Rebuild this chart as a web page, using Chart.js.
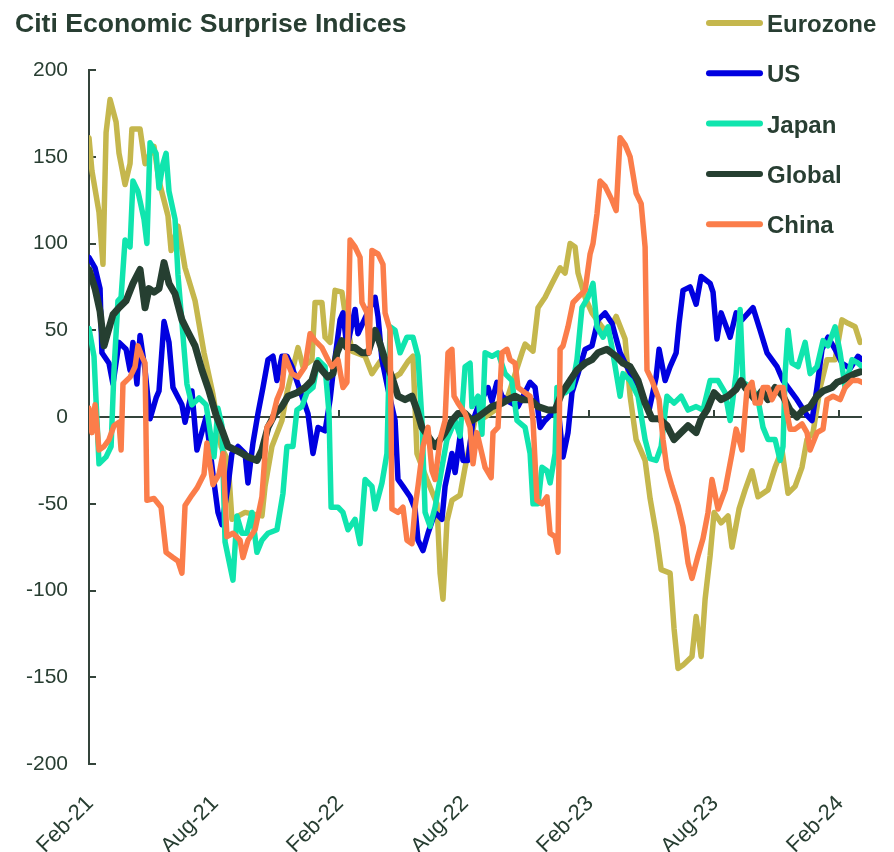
<!DOCTYPE html>
<html>
<head>
<meta charset="utf-8">
<script src="https://cdn.jsdelivr.net/npm/chart.js@4.4.1/dist/chart.umd.min.js"></script>
<style>
  html, body { margin: 0; padding: 0; background: #fff; }
  canvas { display: block; }
</style>
</head>
<body>
<canvas id="chart" width="894" height="852"></canvas>
<script>
// x = months since Feb-21, y = index level
const tickMonths = [0, 6, 12, 18, 24, 30, 36];
const tickLabels = ["Feb-21", "Aug-21", "Feb-22", "Aug-22", "Feb-23", "Aug-23", "Feb-24"];
const yTicks = [-200, -150, -100, -50, 0, 50, 100, 150, 200];

const seriesNames = ["Eurozone", "US", "Japan", "Global", "China"];
const seriesColors = ["#C5B74D", "#0000E0", "#10E5AE", "#263F31", "#FB7D4A"];

const eurozone = [[0,161],[0.14,142],[0.48,118],[0.67,88],[0.82,164],[1.01,183],[1.30,170],[1.44,152],[1.73,134],[1.97,146],[2.06,166],[2.45,166],[2.69,146],[3.12,156],[3.36,136],[3.79,116],[3.94,96],[4.27,110],[4.61,86],[5.09,67],[5.52,37],[5.95,13],[6.34,-17],[6.67,-25],[6.86,-59],[7.49,-55],[8.30,-57],[8.45,-40],[8.78,-17],[9.26,-2],[9.50,14],[10.03,40],[10.27,29],[10.70,33],[10.85,66],[11.18,66],[11.33,46],[11.57,43],[11.81,73],[12.14,72],[12.29,60],[12.62,38],[13.25,35],[13.58,25],[13.97,32],[14.54,22],[14.93,25],[15.31,32],[15.55,35],[15.74,-21],[16.22,-36],[16.70,-50],[16.85,-90],[16.99,-105],[17.18,-60],[17.42,-48],[17.81,-45],[18.05,-29],[18.38,-10],[18.67,6],[19.01,0],[19.49,4],[20.11,12],[20.78,37],[20.93,42],[21.31,38],[21.55,63],[21.89,69],[22.22,77],[22.61,86],[22.85,83],[23.09,100],[23.33,98],[23.47,83],[23.81,69],[24.14,60],[24.62,52],[24.91,48],[25.30,58],[25.73,45],[25.97,12],[26.26,-13],[26.69,-25],[26.93,-47],[27.22,-67],[27.46,-88],[27.89,-90],[28.08,-122],[28.27,-145],[28.51,-143],[28.94,-138],[29.14,-115],[29.38,-138],[29.57,-105],[29.81,-80],[30.00,-55],[30.34,-61],[30.67,-57],[30.86,-75],[31.20,-53],[31.49,-42],[31.82,-31],[32.11,-46],[32.59,-42],[32.93,-29],[33.26,-19],[33.55,-44],[33.89,-40],[34.22,-29],[34.46,-13],[34.75,-9],[35.09,17],[35.42,33],[35.81,33],[36.14,56],[36.43,54],[36.77,52],[37.01,43]];

const us = [[0,92],[0.29,86],[0.53,74],[0.62,37],[0.96,31],[1.15,19],[1.44,43],[1.78,39],[1.97,27],[2.11,43],[2.30,19],[2.45,47],[2.69,27],[2.93,-1],[3.22,11],[3.36,15],[3.60,55],[3.84,43],[4.03,17],[4.46,7],[4.61,-3],[4.94,15],[5.18,-19],[5.62,0],[5.95,-33],[6.19,-55],[6.38,-62],[6.67,-40],[6.86,-21],[7.15,-17],[7.49,-21],[7.63,-38],[7.87,-15],[8.11,2],[8.35,17],[8.59,33],[8.83,35],[9.02,21],[9.26,35],[9.50,35],[9.74,29],[10.22,12],[10.51,2],[10.75,-21],[10.99,-6],[11.33,-8],[11.57,10],[11.71,25],[12.05,56],[12.19,60],[12.38,40],[12.77,62],[12.91,48],[13.25,57],[13.73,69],[13.87,58],[14.06,33],[14.35,16],[14.69,-2],[14.83,-36],[15.07,-40],[15.41,-46],[15.65,-53],[15.79,-71],[16.03,-77],[16.27,-67],[16.61,-55],[16.94,-59],[17.09,-40],[17.42,-21],[17.57,-32],[17.81,-11],[17.95,-25],[18.19,-25],[18.43,-2],[18.67,6],[19.15,17],[19.34,9],[19.58,20],[19.82,12],[20.11,9],[20.59,6],[21.17,20],[21.41,17],[21.65,-6],[21.89,-2],[22.22,2],[22.51,6],[22.75,-23],[22.99,-9],[23.18,14],[23.47,25],[23.81,39],[24.14,41],[24.43,56],[24.77,60],[25.10,54],[25.49,37],[25.82,29],[26.16,21],[26.50,12],[26.88,4],[27.22,23],[27.36,39],[27.65,21],[27.89,29],[28.18,37],[28.32,54],[28.51,73],[28.85,75],[29.14,65],[29.38,81],[29.81,77],[29.95,72],[30.14,45],[30.34,60],[30.77,46],[31.06,60],[31.34,56],[31.87,63],[32.21,50],[32.54,37],[33.02,29],[33.31,21],[33.98,10],[34.46,1],[34.70,-2],[34.94,17],[35.18,39],[35.47,46],[35.81,39],[36.14,31],[36.53,28],[36.91,35],[37.10,33]];

const japan = [[0,51],[0.24,35],[0.48,-27],[0.82,-23],[1.06,-17],[1.20,27],[1.39,67],[1.54,69],[1.73,102],[1.97,98],[2.11,136],[2.35,130],[2.64,114],[2.78,100],[2.93,158],[3.22,152],[3.36,132],[3.55,146],[3.70,152],[3.84,130],[4.13,114],[4.27,82],[4.51,47],[4.70,19],[4.94,7],[5.28,11],[5.62,7],[6.00,-23],[6.19,5],[6.38,-5],[6.53,-72],[6.91,-94],[7.10,-57],[7.34,-67],[7.58,-67],[7.82,-55],[8.06,-78],[8.30,-71],[8.59,-67],[9.02,-65],[9.31,-44],[9.50,-17],[9.79,-17],[9.98,4],[10.22,6],[10.46,14],[10.75,17],[10.99,33],[11.33,29],[11.52,2],[11.62,-52],[11.95,-52],[12.19,-55],[12.43,-65],[12.77,-59],[13.01,-73],[13.25,-36],[13.58,-40],[13.73,-53],[14.06,-38],[14.30,-21],[14.45,52],[14.69,50],[14.93,37],[15.26,46],[15.55,46],[15.79,35],[15.98,-2],[16.13,-55],[16.37,-63],[16.61,-52],[16.94,-29],[17.18,-13],[17.57,-2],[17.81,-11],[18.05,29],[18.29,31],[18.38,6],[18.67,12],[18.86,-10],[19.01,37],[19.34,35],[19.63,37],[19.97,25],[20.30,21],[20.54,-2],[20.93,-6],[21.17,-21],[21.31,-50],[21.55,-50],[21.74,-29],[21.98,-31],[22.13,-38],[22.37,-21],[22.46,17],[22.85,14],[23.18,17],[23.42,33],[23.66,63],[23.95,69],[24.19,77],[24.38,52],[24.67,46],[24.91,52],[25.10,40],[25.49,12],[25.63,25],[25.97,21],[26.35,12],[26.69,-13],[26.93,-24],[27.22,-25],[27.46,-17],[27.74,12],[28.08,8],[28.42,12],[28.75,4],[29.14,6],[29.47,4],[29.81,21],[30.19,21],[30.53,14],[30.77,-2],[31.06,25],[31.25,62],[31.39,20],[31.82,17],[32.11,10],[32.35,-6],[32.59,-13],[32.93,-13],[33.17,-25],[33.31,-17],[33.41,25],[33.55,50],[33.74,31],[34.03,29],[34.37,43],[34.61,25],[34.94,29],[35.23,44],[35.47,41],[35.81,52],[36.05,37],[36.29,17],[36.62,33],[36.91,31],[37.10,29]];

const global = [[0,85],[0.29,74],[0.53,61],[0.72,41],[0.86,47],[1.15,59],[1.44,63],[1.78,67],[2.11,77],[2.45,85],[2.69,63],[2.88,74],[3.12,72],[3.36,74],[3.60,89],[3.84,77],[4.13,71],[4.46,56],[4.75,49],[5.09,41],[5.42,27],[5.76,15],[6.10,1],[6.43,-9],[6.67,-17],[7.01,-19],[7.34,-21],[7.63,-23],[8.06,-25],[8.30,-19],[8.59,-6],[8.93,2],[9.26,6],[9.55,12],[9.98,14],[10.37,17],[10.70,21],[10.94,31],[11.18,27],[11.47,23],[11.71,25],[11.90,37],[12.14,44],[12.38,40],[12.77,40],[13.10,37],[13.39,37],[13.73,50],[13.87,46],[14.21,33],[14.54,23],[14.83,12],[15.17,10],[15.50,12],[15.74,4],[15.98,-6],[16.27,-11],[16.61,-17],[16.85,-13],[17.09,-9],[17.42,-2],[17.71,2],[18.05,2],[18.38,-2],[18.67,0],[19.01,3],[19.34,6],[19.82,8],[20.11,10],[20.45,12],[20.78,10],[21.17,10],[21.55,6],[22.03,4],[22.37,4],[22.70,14],[23.09,21],[23.42,27],[23.81,31],[24.14,33],[24.43,37],[24.86,39],[25.30,35],[25.63,31],[25.97,29],[26.35,21],[26.69,8],[27.02,-1],[27.36,-1],[27.74,-5],[28.08,-13],[28.42,-9],[28.75,-5],[29.14,-9],[29.38,-1],[29.66,4],[30.00,14],[30.34,10],[30.67,12],[31.06,16],[31.30,21],[31.49,17],[31.97,10],[32.30,15],[32.59,10],[32.93,17],[33.31,12],[33.65,4],[33.98,0],[34.27,4],[34.61,6],[34.94,12],[35.23,15],[35.66,17],[35.90,20],[36.14,21],[36.43,23],[36.77,25],[37.01,26]];

const china = [[0,5],[0.14,-9],[0.29,7],[0.48,-19],[0.72,-17],[0.96,-13],[1.20,-5],[1.44,-3],[1.54,-19],[1.63,19],[1.97,23],[2.21,29],[2.35,41],[2.54,35],[2.69,31],[2.78,-48],[3.12,-47],[3.46,-52],[3.70,-78],[4.03,-81],[4.27,-83],[4.46,-90],[4.61,-51],[4.94,-45],[5.18,-41],[5.52,-33],[5.66,-15],[5.95,-39],[6.24,-33],[6.43,-21],[6.62,-69],[6.91,-67],[7.25,-71],[7.39,-81],[7.63,-71],[7.97,-65],[8.30,-46],[8.54,-6],[8.78,-2],[9.02,10],[9.26,17],[9.41,35],[9.74,25],[10.03,23],[10.37,29],[10.61,48],[10.85,44],[11.18,40],[11.47,33],[11.66,29],[11.95,33],[12.19,17],[12.38,20],[12.53,102],[12.77,98],[13.01,92],[13.10,66],[13.34,60],[13.44,37],[13.58,96],[13.87,94],[14.11,88],[14.21,60],[14.45,50],[14.54,-53],[14.83,-55],[15.07,-52],[15.26,-71],[15.50,-73],[15.65,-52],[15.79,-40],[16.03,-17],[16.27,-6],[16.46,-31],[16.61,-36],[16.85,-13],[17.09,-2],[17.23,37],[17.42,39],[17.52,12],[17.71,8],[18.05,2],[18.29,-6],[18.43,-27],[18.62,-9],[19.01,-29],[19.30,-35],[19.39,-9],[19.63,-6],[19.82,37],[20.06,39],[20.21,33],[20.45,31],[20.59,17],[20.93,14],[21.17,12],[21.31,-2],[21.50,-48],[21.74,-50],[21.98,-46],[22.13,-67],[22.37,-69],[22.51,-78],[22.61,39],[22.75,41],[22.99,52],[23.23,66],[23.47,69],[23.81,73],[24.05,94],[24.19,100],[24.38,117],[24.53,136],[24.77,133],[25.10,125],[25.30,119],[25.49,161],[25.73,157],[25.97,150],[26.26,129],[26.50,123],[26.69,98],[26.78,27],[27.02,21],[27.36,10],[27.55,-13],[27.74,-30],[27.98,-40],[28.27,-51],[28.51,-63],[28.75,-84],[28.94,-93],[29.23,-80],[29.47,-70],[29.71,-55],[29.90,-36],[30.19,-53],[30.53,-42],[30.86,-21],[31.06,-7],[31.34,-19],[31.58,16],[31.82,20],[31.97,8],[32.21,8],[32.35,17],[32.59,17],[32.78,10],[33.07,17],[33.31,17],[33.50,2],[33.65,-7],[33.89,-7],[34.22,-4],[34.46,-9],[34.61,-19],[34.94,-9],[35.23,-7],[35.42,10],[35.71,12],[36.05,10],[36.29,17],[36.62,21],[36.91,21],[37.10,20]];

const seriesData = [eurozone, us, japan, global, china];

const textColor = "#283E32";
const axisColor = "#34443B";
const fontFamily = '"Liberation Sans", Arial, sans-serif';
Chart.defaults.font.family = fontFamily;

// title, legend, zero line, rotated month labels and inward tick marks
const decorations = {
  id: "decorations",
  beforeDatasetsDraw(chart) {
    const { ctx, chartArea, scales } = chart;
    const y0 = scales.y.getPixelForValue(0);
    ctx.save();
    ctx.strokeStyle = axisColor;
    ctx.lineWidth = 2;
    ctx.beginPath();
    ctx.moveTo(chartArea.left, y0);
    ctx.lineTo(chartArea.right, y0);
    tickMonths.forEach(m => {
      const x = Math.round(scales.x.getPixelForValue(m));
      ctx.moveTo(x, y0);
      ctx.lineTo(x, y0 - 7);
    });
    yTicks.forEach(v => {
      const y = Math.round(scales.y.getPixelForValue(v));
      ctx.moveTo(chartArea.left, y);
      ctx.lineTo(chartArea.left + 7, y);
    });
    ctx.stroke();
    ctx.restore();
  },
  afterDraw(chart) {
    const { ctx, scales, chartArea } = chart;
    ctx.save();
    ctx.fillStyle = textColor;

    // month labels, rotated 45 degrees, ending at the tick
    ctx.font = "22px " + fontFamily;
    ctx.textAlign = "right";
    ctx.textBaseline = "middle";
    tickMonths.forEach((m, i) => {
      const x = scales.x.getPixelForValue(m);
      ctx.save();
      ctx.translate(x + 1, chartArea.bottom + 36);
      ctx.rotate(-Math.PI / 4);
      ctx.fillText(tickLabels[i], 0, 0);
      ctx.restore();
    });

    ctx.textAlign = "left";
    ctx.textBaseline = "alphabetic";
    ctx.font = "bold 26.6px " + fontFamily;
    ctx.fillText("Citi Economic Surprise Indices", 15, 32);

    ctx.font = "bold 24px " + fontFamily;
    ctx.lineCap = "round";
    ctx.lineWidth = 6;
    seriesNames.forEach((name, i) => {
      const y = 23 + i * 50.3;
      ctx.strokeStyle = seriesColors[i];
      ctx.beginPath();
      ctx.moveTo(709, y);
      ctx.lineTo(760, y);
      ctx.stroke();
      ctx.fillText(name, 767, y + 9);
    });
    ctx.restore();
  }
};

new Chart(document.getElementById("chart"), {
  type: "line",
  data: {
    datasets: seriesNames.map((name, i) => ({
      label: name,
      data: seriesData[i].map(p => ({ x: p[0], y: p[1] })),
      borderColor: seriesColors[i],
      borderWidth: name === "Global" ? 7 : 5.5,
      pointRadius: 0,
      tension: 0,
      borderJoinStyle: "round",
      borderCapStyle: "round",
      order: seriesNames.length - i
    }))
  },
  options: {
    responsive: false,
    animation: false,
    devicePixelRatio: 1,
    layout: { padding: { top: 70, right: 32, left: 0, bottom: 0 } },
    plugins: {
      legend: { display: false },
      tooltip: { enabled: false }
    },
    scales: {
      x: {
        type: "linear",
        min: 0,
        max: 37.1,
        grid: { display: false, drawTicks: false },
        border: { display: false },
        afterBuildTicks: s => { s.ticks = tickMonths.map(v => ({ value: v })); },
        afterFit: s => { s.height = 88; },
        ticks: { display: false }
      },
      y: {
        min: -200,
        max: 200,
        grid: { display: false, drawTicks: false },
        border: { display: true, color: axisColor, width: 2 },
        afterFit: s => { s.width = 89; },
        ticks: {
          stepSize: 50,
          padding: 21,
          color: textColor,
          font: { size: 21 }
        }
      }
    }
  },
  plugins: [decorations]
});
</script>
</body>
</html>
